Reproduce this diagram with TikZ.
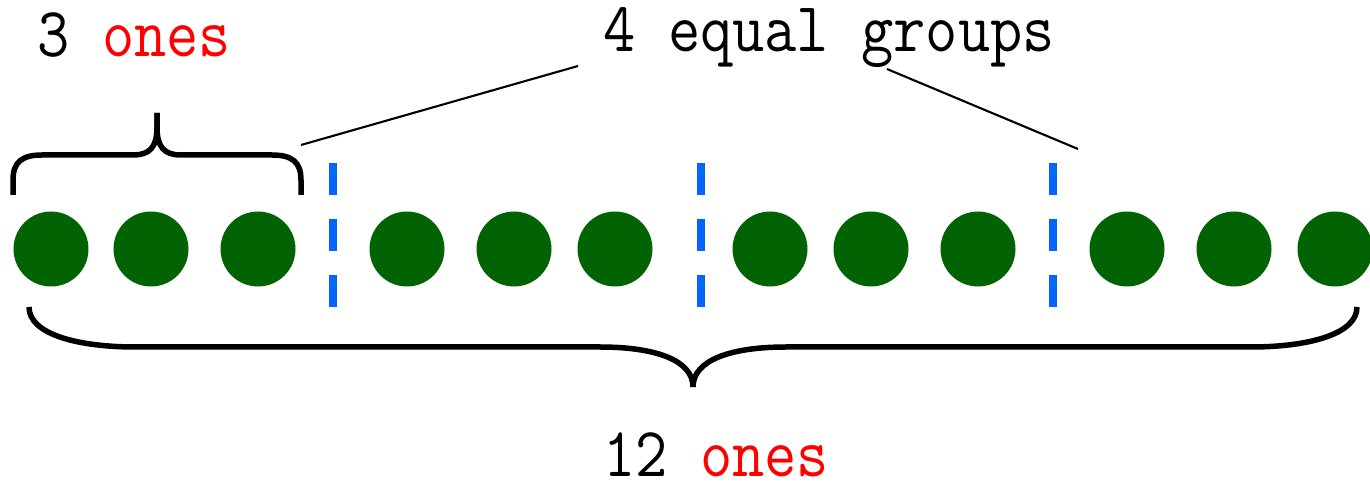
\documentclass[tikz,border=0pt]{standalone}
\definecolor{dotgreen}{RGB}{2,99,2}
\definecolor{divblue}{RGB}{0,102,255}

\begin{document}
\begin{tikzpicture}[dot/.style={circle,fill=dotgreen,minimum size=0.75cm,inner sep=0pt},
        divider/.style={draw=divblue,line width=0.08cm,dash pattern=on 0.32cm off 0.24cm},
        brace/.style={line width=0.055cm},
        pointer/.style={line width=0.6pt},
        numtext/.style={font=\fontsize{20}{24}\selectfont\ttfamily,inner sep=0pt,anchor=base west,xscale=0.89,transform shape}]
        \useasboundingbox (0,0) rectangle (13.7,-4.88);
        % the twelve ones
        \foreach \x [count=\i] in {0.51,1.51,2.58,4.07,5.14,6.15,7.70,8.71,9.78,11.27,12.34,13.35}
            \node[dot] (one\i) at (\x,-2.49) {};
        % group dividers
        \foreach \x [count=\i] in {3.33,7.01,10.53} {
            \coordinate (div\i-top) at (\x,-1.63);
            \coordinate (div\i-bot) at (\x,-3.07);
            \draw[divider] (div\i-top) -- (div\i-bot);
        }
        % labels
        \node[numtext] (three) at (0.37,-0.57) {3 \textcolor{red}{ones}};
        \node[numtext] (groups) at (6.03,-0.52) {4 equal groups};
        \node[numtext] (twelve) at (6.03,-4.77) {12 \textcolor{red}{ones}};
        % small brace over one group
        \draw[brace] (1.57,-1.13) -- (1.57,-1.27) .. controls (1.57,-1.47) and (1.50,-1.55) .. (1.33,-1.55)
            -- (0.42,-1.55) .. controls (0.22,-1.55) and (0.13,-1.62) .. (0.13,-1.80) -- (0.13,-1.95);
        \draw[brace] (1.57,-1.13) -- (1.57,-1.27) .. controls (1.57,-1.47) and (1.64,-1.55) .. (1.81,-1.55)
            -- (2.72,-1.55) .. controls (2.92,-1.55) and (3.01,-1.62) .. (3.01,-1.80) -- (3.01,-1.95);
        % big brace under all ones
        \draw[brace] (6.93,-3.87) .. controls (6.93,-3.60) and (6.55,-3.47) .. (6.00,-3.47)
            -- (1.35,-3.47) .. controls (0.80,-3.47) and (0.29,-3.35) .. (0.29,-3.07);
        \draw[brace] (6.93,-3.87) .. controls (6.93,-3.60) and (7.31,-3.47) .. (7.86,-3.47)
            -- (12.51,-3.47) .. controls (13.06,-3.47) and (13.57,-3.35) .. (13.57,-3.07);
        % pointers from the group label
        \coordinate (grp-left) at (5.78,-0.66);
        \coordinate (grp-right) at (8.87,-0.69);
        \coordinate (brace-end) at (3.01,-1.45);
        \coordinate (div3-near) at (10.78,-1.49);
        \draw[pointer] (grp-left) -- (brace-end);
        \draw[pointer] (grp-right) -- (div3-near);
    \end{tikzpicture}
\end{document}
